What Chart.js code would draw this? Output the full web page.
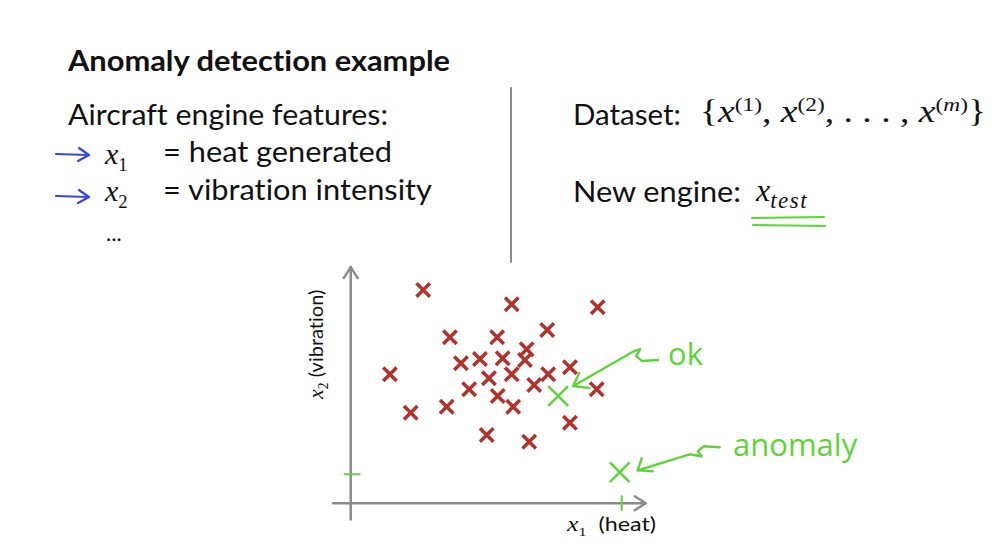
<!DOCTYPE html>
<html>
<head>
<meta charset="utf-8">
<script src="https://cdn.jsdelivr.net/npm/chart.js@4"></script>
<style>
  html, body { margin: 0; padding: 0; background: #fff; }
  #page { position: relative; width: 1007px; height: 552px; overflow: hidden; }
  .t { position: absolute; white-space: nowrap; font-family: Lato, "Open Sans", sans-serif; color: #111; line-height: 1; transform-origin: left top; font-variant-ligatures: none; }
  .m { font-family: "Liberation Serif", "DejaVu Serif", serif; font-style: italic; }
  .m sub, .m sup { font-size: 62%; }
  .m .n { font-style: normal; }
  .hand { position: absolute; white-space: nowrap; font-family: "Open Sans", sans-serif; font-weight: 400; color: #5fd33a; line-height: 1; }
  #plot { position: absolute; left: 0; top: 0; }
</style>
</head>
<body>
<div id="page">
  <div class="t" style="left:68px;top:45px;font-size:29px;font-weight:bold" data-w="382">Anomaly detection example</div>
  <div class="t" style="left:68px;top:99px;font-size:29px" data-w="320">Aircraft engine features:</div>
  <div class="t m" style="left:105px;top:139px;font-size:30px">x<sub class="n">1</sub></div>
  <div class="t" style="left:163px;top:136px;font-size:29px" data-w="229">= heat generated</div>
  <div class="t m" style="left:105px;top:176px;font-size:30px">x<sub class="n">2</sub></div>
  <div class="t" style="left:163px;top:174px;font-size:29px" data-w="269">= vibration intensity</div>
  <div class="t" style="left:106px;top:222px;font-size:22px">...</div>

  <div class="t" style="left:573px;top:99px;font-size:29px" data-w="108">Dataset:</div>
  <div class="t m" style="left:700px;top:95px;font-size:31px" data-w="286"><span class="n">{</span>x<sup class="n">(1)</sup><span class="n">, </span>x<sup class="n">(2)</sup><span class="n">, . . . , </span>x<sup class="n">(</sup><sup>m</sup><sup class="n">)</sup><span class="n">}</span></div>
  <div class="t" style="left:573px;top:176px;font-size:29px" data-w="168">New engine:</div>
  <div class="t m" style="left:756px;top:174px;font-size:32px">x<sub style="font-size:72%;letter-spacing:1.5px">test</sub></div>

  <div class="t" style="left:305px;top:399px;font-size:20px;transform:rotate(-90deg);transform-origin:left top"><span class="m" style="font-size:22px">x<sub class="n">2</sub></span> (vibration)</div>
  <div class="t" style="left:567px;top:514px;font-size:19px" data-w="89"><span class="m" style="font-size:21px">x<sub class="n">1</sub></span>&nbsp; (heat)</div>

  <div class="hand" style="left:668px;top:338px;font-size:31px">ok</div>
  <div class="hand" style="left:733px;top:429px;font-size:31px">anomaly</div>

  <canvas id="plot" width="1007" height="552"></canvas>
</div>
<script>
// training examples (x1 = heat, x2 = vibration)
const heat = [2.90, 6.44, 9.88, 3.97, 5.86, 7.86, 7.04, 4.41, 5.17, 6.08, 6.97, 1.57, 5.53,
  6.44, 7.90, 8.77, 7.34, 4.74, 5.88, 9.84, 2.40, 3.84, 6.50, 8.77, 5.44, 7.14];
const vibration = [8.53, 7.96, 7.84, 6.64, 6.64, 6.93, 6.16, 5.60, 5.77, 5.80, 5.73, 5.16, 5.00,
  5.16, 5.16, 5.44, 4.73, 4.56, 4.29, 4.56, 3.62, 3.86, 3.86, 3.22, 2.73, 2.46];
// new engines x_test
const testNames = ["ok", "anomaly"];
const testHeat = [8.30, 10.76];
const testVibration = [4.29, 1.24];

const RED = "#b0322a";
const GREEN = "#5fd33a";

// stretch slide text to the measured widths
document.querySelectorAll(".t[data-w]").forEach((el) => {
  const w = el.getBoundingClientRect().width;
  el.style.transform = "scaleX(" + (+el.dataset.w / w) + ")";
});

function stroke(ctx, pts) {
  ctx.beginPath();
  ctx.moveTo(pts[0][0], pts[0][1]);
  for (let i = 1; i < pts.length; i++) ctx.lineTo(pts[i][0], pts[i][1]);
  ctx.stroke();
}

const slideDeco = {
  id: "slideDeco",
  beforeDatasetsDraw(chart) {
    const ctx = chart.ctx;
    const xs = chart.scales.x, ys = chart.scales.y;
    const x0 = xs.getPixelForValue(0), y0 = ys.getPixelForValue(0);
    ctx.save();
    ctx.lineCap = "round";
    ctx.lineJoin = "round";

    // divider
    ctx.strokeStyle = "#8c8c8c";
    ctx.lineWidth = 2;
    stroke(ctx, [[511, 88], [511, 262]]);

    // axes with arrow heads
    ctx.strokeStyle = "#8a8a8a";
    ctx.lineWidth = 2.5;
    const xEnd = xs.getPixelForValue(11.8), yTop = ys.getPixelForValue(9.45);
    stroke(ctx, [[xs.getPixelForValue(-0.7), y0], [xEnd, y0]]);
    stroke(ctx, [[xEnd - 11, y0 - 7], [xEnd, y0], [xEnd - 11, y0 + 7]]);
    stroke(ctx, [[x0, ys.getPixelForValue(-0.65)], [x0, yTop]]);
    stroke(ctx, [[x0 - 7, yTop + 11], [x0, yTop], [x0 + 7, yTop + 11]]);

    // green ticks at the anomaly
    ctx.strokeStyle = GREEN;
    ctx.lineWidth = 2;
    const ax = xs.getPixelForValue(testHeat[1]), ay = ys.getPixelForValue(testVibration[1]);
    stroke(ctx, [[x0 - 6, ay + 2], [x0 + 9, ay + 2]]);
    stroke(ctx, [[ax + 2, y0 - 7], [ax + 2, y0 + 7]]);

    // blue hand-drawn arrows
    ctx.strokeStyle = "#3a46e0";
    ctx.lineWidth = 2.2;
    [155, 197].forEach((y) => {
      stroke(ctx, [[56, y - 1], [88, y]]);
      stroke(ctx, [[79, y - 7], [89, y], [78, y + 6]]);
    });

    // green double underline under x_test
    ctx.strokeStyle = GREEN;
    ctx.lineWidth = 2;
    stroke(ctx, [[752, 218], [824, 217]]);
    stroke(ctx, [[753, 225], [825, 226]]);
    ctx.restore();
  },
  afterDatasetsDraw(chart) {
    const ctx = chart.ctx;
    const xs = chart.scales.x, ys = chart.scales.y;
    ctx.save();
    ctx.strokeStyle = GREEN;
    ctx.lineWidth = 2.4;
    ctx.lineCap = "round";
    ctx.lineJoin = "round";
    // "ok" arrow
    let px = xs.getPixelForValue(testHeat[0]), py = ys.getPixelForValue(testVibration[0]);
    let tx = px + 15, ty = py - 10;
    stroke(ctx, [[px + 100, py - 36], [px + 84, py - 35], [px + 78, py - 40], [px + 82, py - 47],
      [px + 76, py - 45], [tx, ty]]);
    stroke(ctx, [[tx + 6, ty - 13], [tx, ty], [tx + 16, ty + 2]]);
    // "anomaly" arrow
    px = xs.getPixelForValue(testHeat[1]); py = ys.getPixelForValue(testVibration[1]);
    tx = px + 18; ty = py - 2;
    stroke(ctx, [[px + 100, py - 25], [px + 84, py - 26], [px + 78, py - 21], [px + 82, py - 16],
      [px + 70, py - 18], [tx, ty]]);
    stroke(ctx, [[tx + 4, ty - 12], [tx, ty], [tx + 15, ty + 1]]);
    ctx.restore();
  },
};

new Chart(document.getElementById("plot"), {
  type: "scatter",
  data: {
    datasets: [
      {
        label: "Training examples",
        data: heat.map((h, i) => ({ x: h, y: vibration[i] })),
        pointStyle: "crossRot",
        pointRadius: 9.5,
        pointBorderWidth: 3.5,
        borderColor: RED,
        backgroundColor: RED,
      },
      {
        label: "x_test",
        data: testHeat.map((h, i) => ({ x: h, y: testVibration[i], name: testNames[i] })),
        pointStyle: "crossRot",
        pointRadius: 14,
        pointBorderWidth: 2.5,
        borderColor: GREEN,
        backgroundColor: GREEN,
      },
    ],
  },
  options: {
    responsive: false,
    animation: false,
    devicePixelRatio: 1,
    layout: { padding: { left: 325.7, right: 356.3, top: 253.3, bottom: 23.7 } },
    plugins: { legend: { display: false }, tooltip: { enabled: false } },
    scales: {
      x: { type: "linear", min: -1, max: 12, display: false },
      y: { type: "linear", min: -1, max: 10, display: false },
    },
  },
  plugins: [slideDeco],
});
</script>
</body>
</html>
